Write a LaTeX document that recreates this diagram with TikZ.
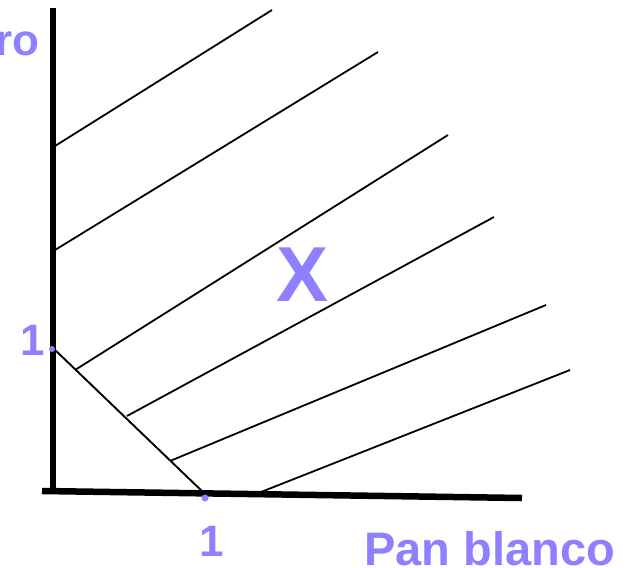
\documentclass[tikz,border=0pt]{standalone}
\usepackage{fontspec}
\setmainfont{Liberation Sans}
\definecolor{lila}{RGB}{143,128,255}
\tikzset{etiq/.style={text=lila,font=\bfseries\fontsize{44}{48}\selectfont,inner sep=0pt}}
\begin{document}
\begin{tikzpicture}[x=1pt,y=-1pt]
            \useasboundingbox(0,0)rectangle(633,568);
            \draw[line width=6pt](53,8)--(53,494);
            \draw[line width=6.5pt](42,491)--(522,498);
            \draw[line width=1.9pt](53,348)--(205,494);
            \draw[line width=1.8pt](55,146)--(272,10);
            \draw[line width=1.8pt](55,250)--(378,52);
            \draw[line width=1.8pt](75,370)--(448,135);
            \draw[line width=1.8pt](127,416)--(494,217);
            \draw[line width=1.8pt](170,461)--(546,305);
            \draw[line width=1.8pt](256,494)--(570,370);
            \fill[lila](52,349)circle(3);
            \fill[lila](205,498)circle(3.5);
            \node[etiq,anchor=base east](ejey)at(40,55){ro};
            \node[etiq,anchor=base](uny)at(33,355){1};
            \node[etiq,anchor=base](unx)at(212,556){1};
            \node[etiq,font=\bfseries\fontsize{47}{50}\selectfont,anchor=base west](ejex)at(364,565){Pan blanco};
            \node[etiq,font=\bfseries\fontsize{78}{80}\selectfont,anchor=base](equis)at(303,301){X};
\end{tikzpicture}
\end{document}
